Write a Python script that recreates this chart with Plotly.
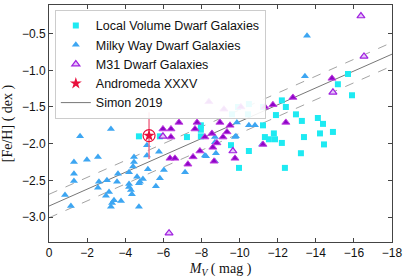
import plotly.graph_objects as go

# ---------------- data ----------------
lv_mv = [-4.72, -5.82, -7.24, -7.97, -7.97, -7.97, -9.55, -10.49, -9.97, -9.60,
         -9.92, -10.49, -11.23, -11.91, -10.44, -11.23, -11.33, -11.54, -11.86, -11.80,
         -12.22, -12.43, -12.96, -13.27, -14.11, -14.38, -14.22, -14.90, -13.38, -12.22,
         -13.22, -12.38, -14.43, -15.16, -15.69, -15.90]
lv_feh = [-1.90, -1.90, -1.91, -1.75, -1.81, -1.90, -2.02, -2.10, -2.33, -1.60,
          -1.50, -1.46, -1.50, -1.61, -1.60, -1.75, -1.91, -1.94, -1.94, -1.86,
          -1.41, -1.50, -1.60, -1.69, -1.65, -1.73, -1.86, -1.84, -1.91, -1.99,
          -2.13, -2.33, -2.01, -1.19, -1.05, -1.34]

mw_mv = [-1.63, -3.25, -1.31, -1.99, -2.57, -0.84, -1.15, -1.31, -1.31, -2.57,
         -2.62, -3.04, -3.15, -2.99, -3.41, -3.31, -3.25, -3.78, -3.57, -3.62,
         -4.20, -4.46, -4.46, -4.41, -4.62, -4.20, -4.30, -4.20, -4.77, -4.35,
         -4.72, -5.14, -5.14, -5.77, -5.19, -6.03, -4.93, -4.72, -5.82, -5.61,
         -7.14, -8.24, -8.76, -8.81, -8.71, -8.18, -9.81, -9.86, -10.81, -9.76,
         -8.71, -8.71, -11.18, -10.49, -13.43, -13.54]
mw_feh = [-1.90, -1.80, -2.25, -2.22, -2.18, -2.70, -2.85, -2.41, -2.51, -2.60,
          -2.52, -2.50, -2.66, -2.71, -2.77, -2.81, -2.86, -2.78, -2.52, -2.41,
          -2.39, -2.18, -2.25, -2.31, -2.45, -2.55, -2.63, -2.59, -2.52, -2.69,
          -2.86, -2.02, -2.16, -2.11, -2.35, -2.36, -2.48, -2.54, -2.47, -2.58,
          -2.39, -2.17, -2.13, -1.99, -2.24, -2.16, -1.90, -1.71, -1.75, -1.91,
          -1.91, -1.98, -2.01, -1.75, -1.08, -0.53]

# M31 dwarfs (two sub-samples)
m31a_mv = [-8.39, -9.18, -10.07, -11.33, -11.75, -7.77, -6.82, -7.66, -8.97, -9.50,
           -9.34, -8.55, -9.13, -8.18, -8.81, -7.92, -8.60, -7.56, -9.76, -8.66,
           -7.29, -6.35, -6.61, -5.98, -6.40, -6.40, -11.23, -12.80, -12.43, -14.85]
m31a_feh = [-1.43, -1.53, -1.50, -1.50, -1.47, -1.71, -1.71, -1.80, -1.71, -1.75,
            -1.84, -1.86, -1.91, -1.91, -1.99, -2.10, -2.05, -2.18, -2.20, -2.24,
            -2.28, -2.20, -2.20, -1.80, -1.80, -1.91, -2.01, -1.37, -1.71, -1.11]
m31b_mv = [-5.98, -9.65, -6.30, -14.90, -16.37, -16.53]
m31b_feh = [-1.90, -2.10, -3.22, -1.30, -0.26, -0.81]

and35_mv = [-5.25]
and35_feh = [-1.89]
and35_err = [0.32]

simon_mv = [0, -18]
simon_feh = [-2.85, -0.78]
simon_upper = [-2.69, -0.62]
simon_lower = [-3.01, -0.94]

x_ticks = [0, -2, -4, -6, -8, -10, -12, -14, -16, -18]
y_ticks = [-3.0, -2.5, -2.0, -1.5, -1.0, -0.5]

# ---------------- figure ----------------
fig = go.Figure()

fig.add_trace(go.Scatter(x=simon_mv, y=simon_upper, mode="lines",
                         line=dict(color="#999999", width=0.9, dash="dash"),
                         showlegend=False, hoverinfo="skip"))
fig.add_trace(go.Scatter(x=simon_mv, y=simon_lower, mode="lines",
                         line=dict(color="#999999", width=0.9, dash="dash"),
                         showlegend=False, hoverinfo="skip"))
fig.add_trace(go.Scatter(x=simon_mv, y=simon_feh, mode="lines", name="Simon 2019",
                         line=dict(color="#777777", width=1), legendrank=5))

fig.add_trace(go.Scatter(x=lv_mv, y=lv_feh, mode="markers", name="Local Volume Dwarf Galaxies",
                         marker=dict(symbol="square", size=6, color="#1EEAF2",
                                     line=dict(width=0)), legendrank=1))
fig.add_trace(go.Scatter(x=mw_mv, y=mw_feh, mode="markers", name="Milky Way Dwarf Galaxies",
                         marker=dict(symbol="triangle-up", size=7, color="#3DA6F2",
                                     line=dict(width=0)), legendrank=2))
fig.add_trace(go.Scatter(x=m31a_mv, y=m31a_feh, mode="markers", name="M31 Dwarf Galaxies",
                         legendgroup="m31", showlegend=False,
                         marker=dict(symbol="triangle-up", size=7, color="#8E05C8",
                                     line=dict(width=1, color="#C040E0"))))
fig.add_trace(go.Scatter(x=m31b_mv, y=m31b_feh, mode="markers", name="M31 Dwarf Galaxies",
                         legendgroup="m31", legendrank=3,
                         marker=dict(symbol="triangle-up", size=7, color="#E6C8F8",
                                     line=dict(width=1.2, color="#A020E0"))))

fig.add_trace(go.Scatter(x=and35_mv, y=and35_feh, mode="markers", showlegend=False,
                         error_y=dict(type="data", array=and35_err, color="#F0708C",
                                      thickness=1.5, width=0),
                         marker=dict(symbol="circle-open", size=12, color="#E8103C",
                                     line=dict(width=1.2)), hoverinfo="skip"))
fig.add_trace(go.Scatter(x=and35_mv, y=and35_feh, mode="markers", name="Andromeda XXXV",
                         marker=dict(symbol="star", size=9, color="#E8103C",
                                     line=dict(width=0)), legendrank=4))

axis_common = dict(showline=True, linecolor="#444444", linewidth=1, mirror="ticks",
                   ticks="inside", ticklen=4, tickcolor="#444444", showgrid=False,
                   zeroline=False, automargin=False,
                   tickfont=dict(family="Liberation Sans, Arial", size=12, color="#111111"))

fig.update_xaxes(range=[0, -18], tickvals=x_ticks,
                 title=dict(text="<i>M</i><sub><i>V</i></sub> ( mag )",
                            font=dict(family="Liberation Serif, serif", size=14, color="#111")),
                 **axis_common)
fig.update_yaxes(range=[-3.34, -0.11], tickvals=y_ticks, tickformat=".1f",
                 title=dict(text="[Fe/H] ( dex )",
                            font=dict(family="Liberation Serif, serif", size=14, color="#111")),
                 **axis_common)

fig.update_layout(
    width=407, height=278,
    margin=dict(l=49, r=15, t=5, b=36),
    paper_bgcolor="white", plot_bgcolor="white",
    legend=dict(x=0.017, y=0.979, xanchor="left", yanchor="top",
                bgcolor="rgba(255,255,255,0.9)", bordercolor="#cccccc", borderwidth=1,
                font=dict(family="Liberation Sans, Arial", size=12.5, color="#111"),
                itemwidth=30, tracegroupgap=0),
    showlegend=True,
)

fig.write_html("out.html", config={"displayModeBar": False},
               post_script="document.body.style.margin='0';")
